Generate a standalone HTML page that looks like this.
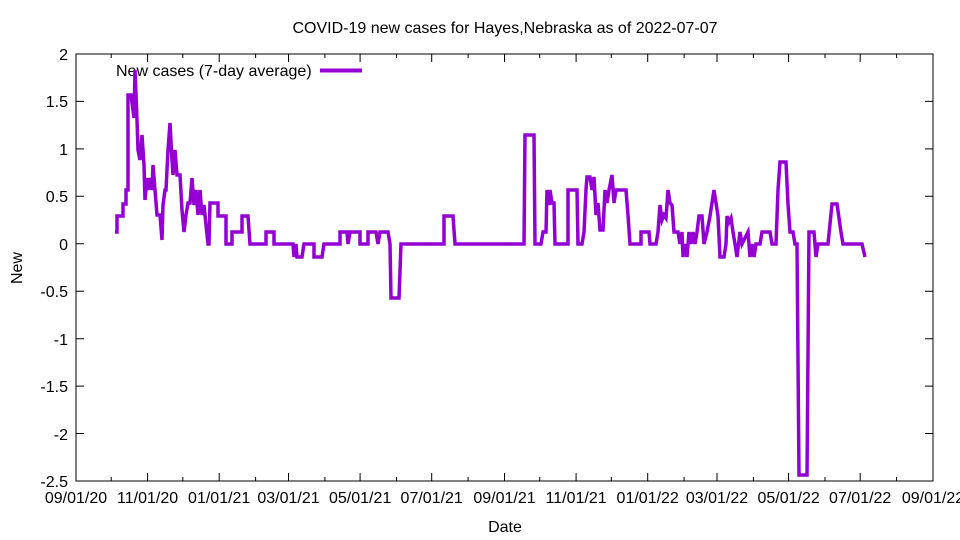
<!DOCTYPE html><html><head><style>body{margin:0;background:#fff}svg{display:block}text{font-family:"Liberation Sans",sans-serif;font-size:16px;fill:#000}</style></head><body>
<svg width="960" height="540" xmlns="http://www.w3.org/2000/svg">
<text x="505" y="33" text-anchor="middle">COVID-19 new cases for Hayes,Nebraska as of 2022-07-07</text>
<rect x="76" y="54" width="857" height="427" fill="none" stroke="#000" stroke-width="1"/>
<path stroke="#000" d="M76 54h8M933 54h-8M76 101.4h8M933 101.4h-8M76 148.9h8M933 148.9h-8M76 196.3h8M933 196.3h-8M76 243.8h8M933 243.8h-8M76 291.2h8M933 291.2h-8M76 338.7h8M933 338.7h-8M76 386.1h8M933 386.1h-8M76 433.5h8M933 433.5h-8"/>
<g text-anchor="end">
<text x="68" y="60">2</text><text x="68" y="107">1.5</text><text x="68" y="155">1</text><text x="68" y="202">0.5</text><text x="68" y="250">0</text><text x="68" y="297">-0.5</text><text x="68" y="345">-1</text><text x="68" y="392">-1.5</text><text x="68" y="440">-2</text><text x="68" y="487">-2.5</text>
</g>
<path stroke="#000" d="M76 481v-8M76 54v8M111.2 481v-4M111.2 54v4M147.6 481v-8M147.6 54v8M182.8 481v-4M182.8 54v4M219.2 481v-8M219.2 54v8M255.6 481v-4M255.6 54v4M288.5 481v-8M288.5 54v8M324.9 481v-4M324.9 54v4M360.1 481v-8M360.1 54v8M396.5 481v-4M396.5 54v4M431.7 481v-8M431.7 54v8M468.1 481v-4M468.1 54v4M504.5 481v-8M504.5 54v8M539.7 481v-4M539.7 54v4M576.1 481v-8M576.1 54v8M611.3 481v-4M611.3 54v4M647.7 481v-8M647.7 54v8M684.1 481v-4M684.1 54v4M717 481v-8M717 54v8M753.4 481v-4M753.4 54v4M788.6 481v-8M788.6 54v8M825 481v-4M825 54v4M860.2 481v-8M860.2 54v8M896.6 481v-4M896.6 54v4"/>
<g text-anchor="middle">
<text x="76" y="503">09/01/20</text><text x="147.6" y="503">11/01/20</text><text x="219.2" y="503">01/01/21</text><text x="288.5" y="503">03/01/21</text><text x="360.1" y="503">05/01/21</text><text x="431.7" y="503">07/01/21</text><text x="504.5" y="503">09/01/21</text><text x="576.1" y="503">11/01/21</text><text x="647.7" y="503">01/01/22</text><text x="717" y="503">03/01/22</text><text x="788.6" y="503">05/01/22</text><text x="860.2" y="503">07/01/22</text><text x="933" y="503">09/01/22</text>
</g>
<text x="505" y="532" text-anchor="middle">Date</text>
<text x="22" y="268" text-anchor="middle" transform="rotate(-90 22 268)">New</text>
<text x="116" y="76">New cases (7-day average)</text>
<path d="M320 70.5h42" stroke="#9400d3" stroke-width="4"/>
<polyline fill="none" stroke="#9400d3" stroke-width="3.5" stroke-linejoin="miter" points="115,232 117,232 117,216 123,216 123,204 126,204 126,190 128,190 128,95 131,95 133,110 134,118 135,70 137,120 138,150 140,160 142,135 144,165 145,200 147,178 148,190 150,178 152,190 153,165 155,190 157,215 160,215 162,240 163,205 165,190 166,190 168,150 170,123 172,160 173,175 175,150 177,175 180,175 182,210 184,232 186,215 188,203 190,203 192,178 194,205 196,190 198,215 200,190 202,215 204,205 206,225 208,244 209,244 210,203 218,203 218,216 226,216 226,244 232,244 232,232 242,232 242,216 248,216 250,244 266,244 266,232 274,232 274,244 293,244 294,257 296,244 297,257 302,257 304,244 314,244 314,257 322,257 324,244 340,244 340,232 347,232 348,244 350,232 360,232 360,244 368,244 368,232 376,232 378,244 380,232 388,232 390,244 391,298 399,298 401,244 444,244 444,216 453,216 455,244 524,244 525,135 534,135 535,244 541,244 543,232 546,232 547,190 549,205 550,190 552,203 554,203 555,244 568,244 568,190 577,190 578,244 582,244 584,232 586,190 587,177 590,177 592,190 594,177 596,215 598,203 600,230 603,230 605,190 607,203 609,190 612,175 614,203 616,190 626,190 628,215 630,244 641,244 641,232 649,232 650,244 656,244 658,232 660,205 662,220 664,215 666,218 668,190 670,203 672,205 674,232 678,232 680,244 682,232 683,257 685,244 687,257 689,232 691,244 693,232 695,244 697,232 699,216 702,216 704,244 707,232 710,216 712,203 714,190 716,203 718,216 720,257 724,257 726,244 727,216 729,222 731,218 733,232 735,244 737,257 740,232 742,244 748,232 750,257 752,244 754,257 756,244 760,244 762,232 770,232 772,244 776,244 778,190 780,162 786,162 788,204 790,232 793,232 795,244 797,244 799,475 807,475 809,232 814,232 816,257 818,244 828,244 832,204 837,204 841,232 843,244 862,244 865,257"/>
</svg></body></html>
